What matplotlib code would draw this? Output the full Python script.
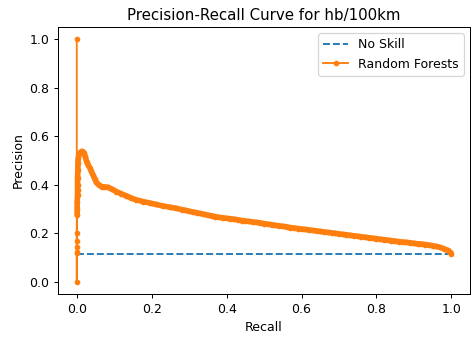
import matplotlib

matplotlib.use("Agg")
import matplotlib.pyplot as plt

# no-skill baseline = positive class share
no_skill_recall = [0.0, 1.0]
no_skill_precision = [0.116, 0.116]

# random forest PR points
rf_recall = [
    0.0, 0.0, 0.0, 0.0, 0.0, 0.0, 0.0,
    0.001, 0.001, 0.001, 0.002, 0.002, 0.002, 0.002, 0.003, 0.003, 0.004,
    0.006, 0.010, 0.014, 0.019, 0.023, 0.026, 0.030, 0.035, 0.039, 0.043,
    0.048, 0.052, 0.059, 0.066, 0.075, 0.083, 0.095, 0.106, 0.119, 0.132,
    0.145, 0.159, 0.177, 0.195, 0.212, 0.230, 0.248, 0.266,
    0.28, 0.29, 0.30, 0.31, 0.32, 0.33, 0.34, 0.35, 0.36, 0.37, 0.38, 0.39,
    0.40, 0.41, 0.42, 0.43, 0.44, 0.45, 0.46, 0.47, 0.48, 0.49, 0.50, 0.51,
    0.52, 0.53, 0.54, 0.55, 0.56, 0.57, 0.58, 0.59, 0.60, 0.61, 0.62, 0.63,
    0.64, 0.65, 0.66, 0.67, 0.68, 0.69, 0.70, 0.71, 0.72, 0.73, 0.74, 0.75,
    0.76, 0.77, 0.78, 0.79, 0.80, 0.81, 0.82, 0.83, 0.84, 0.85, 0.86, 0.87,
    0.88, 0.89, 0.90, 0.91, 0.92, 0.93, 0.94, 0.95, 0.96, 0.97, 0.98, 0.99,
    0.995, 1.0,
]
rf_precision = [
    1.0, 0.0, 0.118, 0.125, 0.143, 0.170, 0.203,
    0.276, 0.300, 0.330, 0.360, 0.380, 0.400, 0.430, 0.460, 0.490, 0.510,
    0.525, 0.535, 0.538, 0.533, 0.515, 0.496, 0.482, 0.469, 0.455, 0.441,
    0.425, 0.410, 0.400, 0.393, 0.391, 0.390, 0.381, 0.372, 0.363, 0.355,
    0.346, 0.338, 0.331, 0.325, 0.319, 0.313, 0.308, 0.303,
    0.298, 0.295, 0.291, 0.288, 0.285, 0.282, 0.278, 0.275, 0.272, 0.269, 0.266, 0.264,
    0.262, 0.260, 0.258, 0.256, 0.253, 0.251, 0.249, 0.247, 0.245, 0.243, 0.240, 0.238,
    0.236, 0.233, 0.231, 0.229, 0.227, 0.224, 0.222, 0.220, 0.218, 0.216, 0.214, 0.212,
    0.210, 0.208, 0.206, 0.204, 0.202, 0.200, 0.198, 0.196, 0.194, 0.192, 0.190, 0.188,
    0.186, 0.184, 0.182, 0.180, 0.178, 0.176, 0.174, 0.172, 0.170, 0.168, 0.166, 0.164,
    0.163, 0.161, 0.159, 0.157, 0.156, 0.154, 0.152, 0.149, 0.146, 0.142, 0.137, 0.130,
    0.124, 0.117,
]
DENSE_FROM = 7  # past the sparse spike at recall 0 the markers merge into a band

DPI = 90
fig = plt.figure(figsize=(472 / DPI, 338 / DPI), dpi=DPI)
ax = fig.add_axes([0.123, 0.130, 0.873, 0.790])

ax.plot(no_skill_recall, no_skill_precision, linestyle="--", label="No Skill")
# thick underlay to mimic thousands of overlapping markers
ax.plot(rf_recall[DENSE_FROM:], rf_precision[DENSE_FROM:], color="C1", lw=4.5,
        solid_capstyle="round", solid_joinstyle="round")
ax.plot(rf_recall, rf_precision, color="C1", marker=".", markersize=7, lw=1.5,
        label="Random Forests")

ax.set_xlim(-0.05, 1.05)
ax.set_ylim(-0.05, 1.05)
ax.set_title("Precision-Recall Curve for hb/100km")
ax.set_xlabel("Recall")
ax.set_ylabel("Precision")
ax.legend(loc="upper right")

fig.savefig("out.png", dpi=DPI)
